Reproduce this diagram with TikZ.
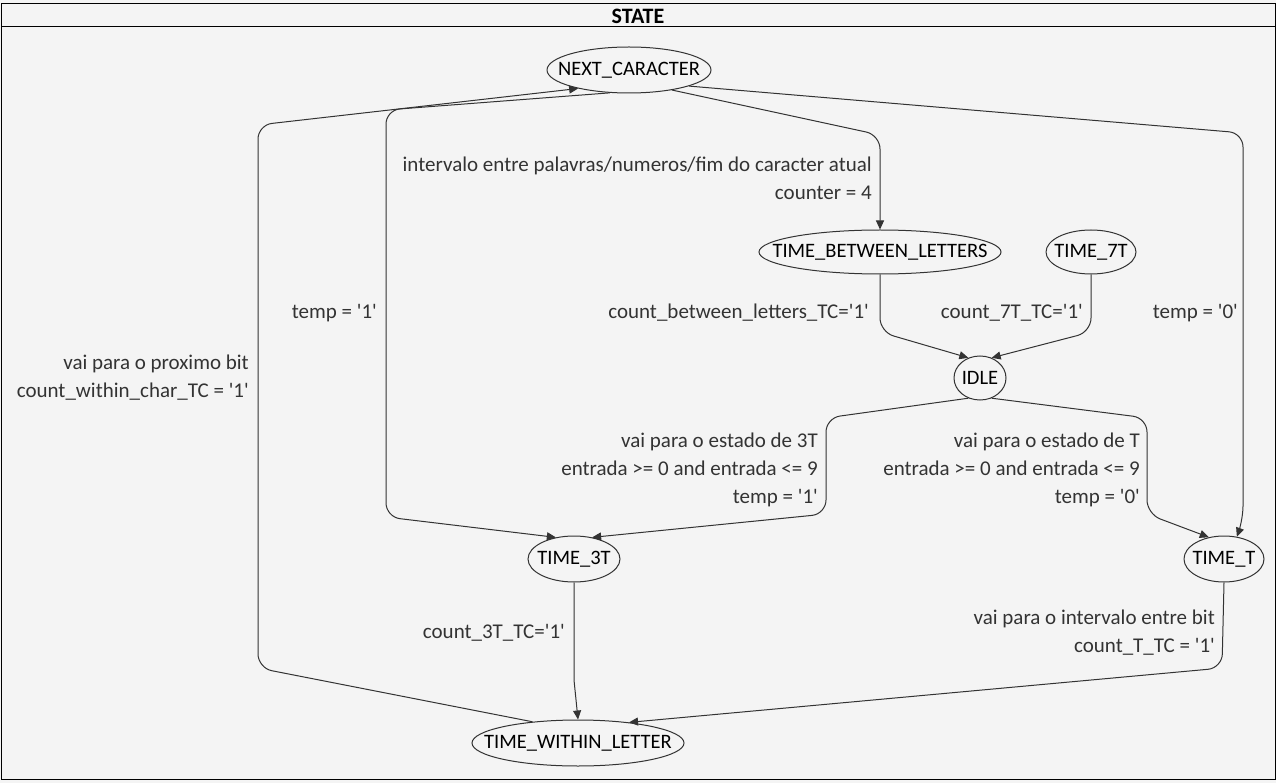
\documentclass[tikz,border=0pt]{standalone}
\usepackage{fontspec}
\setmainfont{Carlito}
\usetikzlibrary{arrows.meta,shapes.geometric}
\definecolor{bg}{HTML}{F4F4F4}
\definecolor{ink}{HTML}{333333}
\newcommand{\qq}{\textquotesingle}
\begin{document}
\begin{tikzpicture}[x=1pt,y=-1pt,
  state/.style={draw=ink,line width=1pt,ellipse,inner sep=0pt,
    label={[text=black,inner sep=0pt,font=\fontsize{20.5}{24}\selectfont]center:#1}},
  lbl/.style={align=right,anchor=east,inner sep=0pt,text=ink,font=\fontsize{21}{28}\selectfont},
  edge/.style={draw=ink,line width=1pt,rounded corners=14pt,-{Triangle[length=9pt,width=8pt]}}]
\path[use as bounding box] (0,0) rectangle (1276,783);
\fill[bg] (0,0) rectangle (1276,783);
\draw[line width=1pt,black] (1,4) rectangle (1275,779);
\draw[line width=1pt,black] (1,27) -- (1275,27);
\node[font=\bfseries\fontsize{22}{22}\selectfont,text=black] (title) at (638,16) {STATE};
% states
\node[state={NEXT\_CARACTER},minimum width=164,minimum height=46] (next) at (629,70) {};
\node[state={TIME\_BETWEEN\_LETTERS},minimum width=242,minimum height=44] (tbl) at (880,252) {};
\node[state={TIME\_7T},minimum width=90,minimum height=44] (t7) at (1091,252) {};
\node[state={IDLE},minimum width=52,minimum height=44] (idle) at (980,378) {};
\node[state={TIME\_3T},minimum width=92,minimum height=46] (t3) at (574,559) {};
\node[state={TIME\_T},minimum width=80,minimum height=46] (tT) at (1224,559) {};
\node[state={TIME\_WITHIN\_LETTER},minimum width=212,minimum height=46] (twl) at (578,743) {};
% edges
\draw[edge] (next.-25) -- (880,135) -- (tbl.north);
\draw[edge] (next.-130) -- (386,110) -- (386,517) -- (t3.130);
\draw[edge] (twl.155) -- (258,668) -- (258,125) -- (next.-160);
\draw[edge] (next.-15) -- (1243,133) -- (1243,520) -- (tT.60);
\draw[edge] (tbl.south) -- (880,332) -- (idle.120);
\draw[edge] (t7.south) -- (1091,332) -- (idle.60);
\draw[edge] (idle.-120) -- (826,418) -- (826,514) -- (t3.50);
\draw[edge] (idle.-60) -- (1147,418) -- (1147,514) -- (tT.125);
\draw[edge,rounded corners=0pt] (t3.south) -- (574,680) -- (twl.north);
\draw[edge] (tT.south) -- (1222,668) -- (twl.22);
% labels
\node[lbl] (l1) at (872,178) {intervalo entre palavras/numeros/fim do caracter atual\\counter = 4};
\node[lbl] (l2) at (377,313) {temp = \qq1\qq};
\node[lbl] (l3) at (249,378) {vai para o proximo bit\\count\_within\_char\_TC = \qq1\qq};
\node[lbl] (l4) at (1238,313) {temp = \qq0\qq};
\node[lbl] (l5) at (869,313) {count\_between\_letters\_TC=\qq1\qq};
\node[lbl] (l6) at (1083,313) {count\_7T\_TC=\qq1\qq};
\node[lbl] (l7) at (818,470) {vai para o estado de 3T\\entrada >= 0 and entrada <= 9\\temp = \qq1\qq};
\node[lbl] (l8) at (1140,470) {vai para o estado de T\\entrada >= 0 and entrada <= 9\\temp = \qq0\qq};
\node[lbl] (l9) at (565,633) {count\_3T\_TC=\qq1\qq};
\node[lbl] (l10) at (1215,633) {vai para o intervalo entre bit\\count\_T\_TC = \qq1\qq};
\end{tikzpicture}
\end{document}
